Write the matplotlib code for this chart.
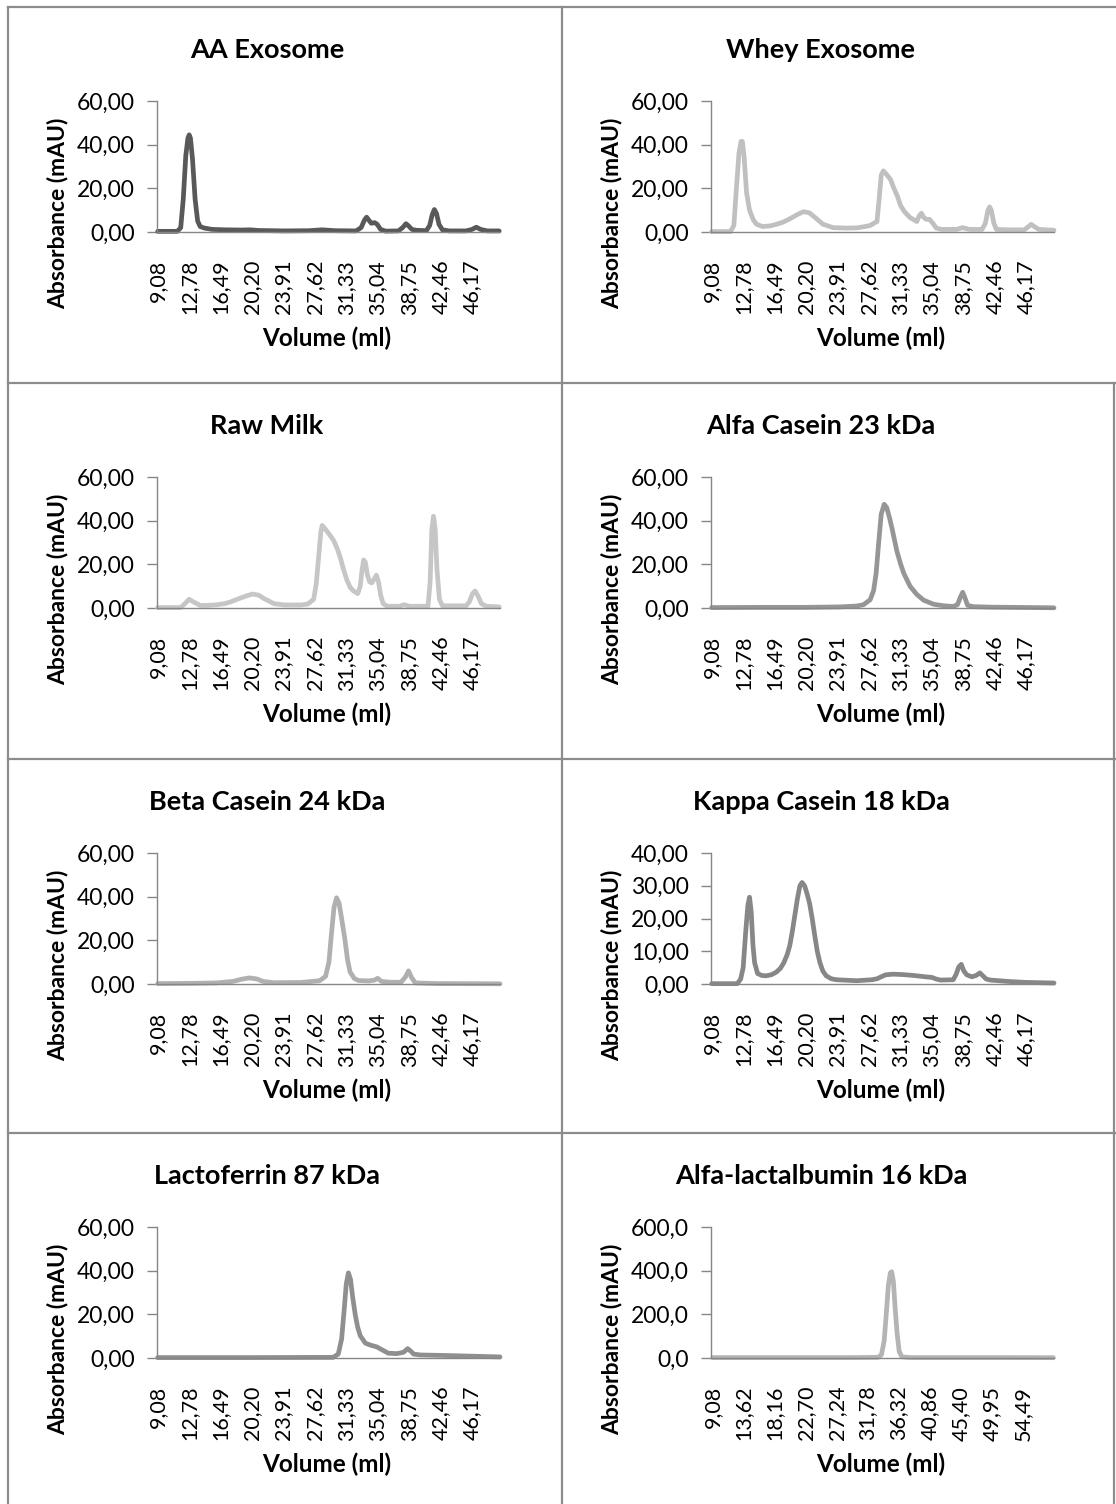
#!/usr/bin/env python3
"""
Eight SEC chromatograms (absorbance vs elution volume) laid out like an Excel sheet grid.
"""

import matplotlib
matplotlib.use('Agg')
import matplotlib.pyplot as plt
from matplotlib.lines import Line2D
from matplotlib.ticker import FuncFormatter

plt.rcParams['font.family'] = ['Lato', 'DejaVu Sans']

# --- data (volume in ml, absorbance in mAU) ---
AA_VOL = [9.08, 11.4, 11.8, 12.1, 12.4, 12.65, 12.8, 12.95, 13.2, 13.5, 13.8, 14.1, 14.6, 15.5, 17, 19, 20, 21,
          24, 27, 28.5, 30, 32.5, 33.1, 33.5, 33.75, 34.0, 34.3, 34.7, 35.0, 35.4, 36, 37.5, 38.0, 38.4, 38.7,
          39.1, 39.6, 40.8, 41.2, 41.5, 41.75, 42.0, 42.3, 42.7, 43.5, 45.5, 46.2, 46.7, 47.2, 48, 49.4]
AA_ABS = [0.3, 0.3, 2, 15, 35, 43, 44.5, 43, 33, 15, 5, 2.5, 1.8, 1.2, 1, 0.9, 1, 0.7,
          0.5, 0.6, 1, 0.6, 0.5, 2, 5.5, 6.8, 5.5, 4, 4.3, 3.5, 1.2, 0.4, 0.5, 2, 3.8, 2.8,
          1.2, 0.8, 0.6, 3, 8, 10.3, 8.5, 3.5, 1, 0.5, 0.5, 1.2, 2.2, 1.2, 0.5, 0.5]

WHEY_VOL = [9.08, 11.3, 11.7, 12.0, 12.3, 12.55, 12.7, 12.9, 13.2, 13.55, 14.0, 14.4, 15.1, 16, 16.7, 17.5,
            18.3, 19.1, 19.9, 20.6, 21.4, 22.2, 23.4, 25, 26.2, 27.2, 27.8, 28.6, 28.85, 29.1, 29.35, 29.7,
            30.2, 30.6, 31.0, 31.4, 31.8, 32.5, 33.3, 33.6, 33.85, 34.1, 34.4, 34.8, 35.2, 35.6, 36.2, 38.0,
            38.7, 39.5, 41.0, 41.4, 41.7, 41.9, 42.1, 42.4, 42.7, 44, 46, 46.5, 46.8, 47.2, 47.7, 49.5]
WHEY_ABS = [0.2, 0.2, 3, 20, 36, 41.5, 41.5, 35, 18, 10, 5.5, 3.5, 2.5, 2.8, 3.5, 4.5,
            6, 7.8, 9.3, 8.8, 6.3, 3.6, 2.0, 1.8, 1.9, 2.5, 3.0, 4.8, 15, 26, 28, 26.5,
            24, 20, 16.5, 12, 9.5, 6.6, 4.8, 7.5, 8.6, 6.8, 5.8, 5.8, 4, 1.8, 1.2, 1.2,
            2.0, 1.2, 1.2, 4, 10, 11.5, 10, 4, 1.2, 1, 1, 2.5, 3.5, 2.4, 1.2, 0.8]

RAW_VOL = [9.08, 11.8, 12.3, 12.8, 13.2, 14.1, 15, 16.1, 17.0, 17.7, 18.6, 19.6, 20.3, 21.0, 21.6, 22.3,
           22.8, 24, 26, 26.8, 27.5, 27.8, 28.1, 28.35, 28.5, 28.8, 29.2, 29.85, 30.3, 30.65, 31.0, 31.4,
           31.8, 32.2, 32.7, 33.0, 33.2, 33.4, 33.6, 33.85, 34.1, 34.35, 34.6, 34.9, 35.15, 35.4, 35.7,
           36.2, 37.6, 38.2, 38.8, 41.0, 41.25, 41.45, 41.65, 41.85, 42.05, 42.35, 42.7, 45.5, 45.9,
           46.25, 46.55, 46.9, 47.3, 47.9, 49.4]
RAW_ABS = [0.2, 0.2, 2, 4.0, 3, 1.2, 1.2, 1.5, 2, 2.8, 4.2, 5.6, 6.4, 5.9, 4.4, 3,
           2.0, 1.4, 1.4, 1.8, 4, 11, 24, 35, 37.8, 36.5, 34.5, 31, 27, 23, 18, 13,
           9.5, 7.8, 6.6, 10, 17, 22, 21, 15, 12, 11.5, 13, 15, 12, 6, 2,
           0.8, 0.8, 1.5, 0.8, 0.8, 12, 36, 42, 36, 18, 4, 1, 1, 3,
           6.5, 7.8, 5.5, 2, 0.8, 0.5]

ALFA_VOL = [9.08, 15, 20, 24.2, 26.2, 27.0, 27.8, 28.2, 28.5, 28.8, 29.1, 29.45, 29.75, 30.1, 30.4, 30.95,
            31.4, 31.75, 32.5, 33.3, 34.1, 35.3, 36.5, 37.6, 38.1, 38.45, 38.72, 39.0, 39.3, 40, 42, 49.5]
ALFA_ABS = [0.2, 0.3, 0.3, 0.5, 0.9, 1.5, 3.8, 8, 16, 30, 43, 47.5, 46, 41, 36, 26,
            20, 16, 10, 6.2, 3.6, 1.7, 1.0, 0.7, 1.5, 5, 7.2, 4.5, 1.2, 0.6, 0.4, 0.1]

BETA_VOL = [9.08, 13, 16, 18, 19.0, 19.9, 20.8, 21.5, 22.8, 26, 28.2, 28.9, 29.3, 29.6, 29.9, 30.2, 30.5,
            30.8, 31.2, 31.5, 31.8, 32.3, 32.8, 34.0, 34.7, 35.05, 35.5, 36.5, 37.8, 38.3, 38.7, 39.05,
            39.5, 42, 49.5]
BETA_ABS = [0.2, 0.3, 0.5, 1.2, 2.2, 2.8, 2.3, 1.2, 0.6, 0.7, 1.5, 3.5, 10, 23, 35, 39.5, 37,
            30, 20, 11, 5.5, 2.5, 1.6, 1.4, 1.8, 2.6, 1.2, 0.8, 0.8, 3, 6, 3,
            0.5, 0.2, 0.1]

KAPPA_VOL = [9.08, 12.1, 12.5, 12.8, 13.1, 13.35, 13.55, 13.75, 13.95, 14.15, 14.5, 15.0, 15.5, 16.1, 16.7,
             17.2, 17.6, 18.0, 18.3, 18.6, 18.9, 19.2, 19.5, 19.75, 20.05, 20.35, 20.65, 20.95, 21.25, 21.55,
             21.85, 22.2, 22.6, 23.2, 23.8, 26.2, 28.0, 28.6, 29.1, 29.6, 30.5, 31.5, 32.5, 33.3, 34.3, 35.1,
             35.6, 36.1, 37.6, 37.95, 38.25, 38.55, 38.85, 39.2, 39.8, 40.3, 40.75, 41.1, 41.5, 42.0, 44, 46,
             49.5]
KAPPA_ABS = [0.1, 0.1, 1.5, 5, 16, 24, 26.5, 22, 12, 6.5, 3.2, 2.6, 2.5, 2.8, 3.6,
             4.8, 6.5, 9, 11.7, 16, 21, 26, 30, 31, 30, 27.5, 24.5, 20, 14.8, 10,
             6.6, 4, 2.5, 1.6, 1.3, 1.0, 1.3, 1.6, 2.2, 2.8, 3.0, 2.9, 2.7, 2.5, 2.2, 2.0,
             1.5, 1.2, 1.3, 3, 5.2, 6, 4, 2.8, 2.2, 2.6, 3.4, 2.5, 1.5, 1.2, 0.8, 0.5,
             0.3]

LACTO_VOL = [9.08, 20, 29.8, 30.4, 30.8, 31.1, 31.35, 31.6, 31.85, 32.1, 32.4, 32.7, 33.0, 33.6, 34.2, 34.95,
             35.55, 36.3, 37.3, 38.1, 38.6, 39.0, 39.3, 40.1, 43.6, 49.5]
LACTO_ABS = [0.2, 0.2, 0.3, 1.8, 8.7, 22, 34, 39, 36, 28, 20, 14, 10.2, 6.8, 5.9, 5.1,
             3.8, 2.2, 2.0, 2.6, 4.3, 3, 1.8, 1.4, 1.1, 0.5]

LALB_VOL = [9.08, 20, 30, 33.3, 33.8, 34.2, 34.5, 34.8, 35.1, 35.3, 35.55, 35.8, 36.1, 36.4, 36.8, 38, 50, 59]
LALB_ABS = [2, 2, 2, 3, 15, 80, 200, 330, 390, 395, 350, 230, 110, 30, 5, 2, 2, 1.5]

TITLES = ["AA Exosome", "Whey Exosome", "Raw Milk", "Alfa Casein 23 kDa",
          "Beta Casein 24 kDa", "Kappa Casein 18 kDa", "Lactoferrin 87 kDa", "Alfa-lactalbumin 16 kDa"]
COLORS = ["#595959", "#c0c0c0", "#c6c6c6", "#969696", "#b0b0b0", "#878787", "#8f8f8f", "#b4b4b4"]

XTICKS_A = [9.08, 12.78, 16.49, 20.20, 23.91, 27.62, 31.33, 35.04, 38.75, 42.46, 46.17]
XTICKS_B = [9.08, 13.62, 18.16, 22.70, 27.24, 31.78, 36.32, 40.86, 45.40, 49.95, 54.49]
YTICKS_A = [0, 20, 40, 60]
YTICKS_K = [0, 10, 20, 30, 40]
YTICKS_L = [0, 200, 400, 600]

W, H = 1116, 1504
COL_X = [8, 562]
ROW_Y = [7, 383, 759, 1133]
AXIS_GRAY = "#868686"


def px_rect(left, top, width, height):
    """Convert a pixel box (origin top-left) to figure fractions."""
    return [left / W, 1 - (top + height) / H, width / W, height / H]


def comma(decimals):
    return FuncFormatter(lambda v, pos: f"{v:.{decimals}f}".replace(".", ","))


def draw_panel(fig, x0, y0, title, vol, absb, color, xticks, xlim, yticks, ydec):
    ax = fig.add_axes(px_rect(x0 + 149, y0 + 94, 343, 131))
    ax.plot(vol, absb, color=color, lw=3.4, solid_joinstyle='round', solid_capstyle='round', clip_on=False)
    ax.set_xlim(*xlim)
    ax.set_ylim(yticks[0], yticks[-1])
    ax.set_yticks(yticks)
    ax.set_xticks(xticks)
    ax.yaxis.set_major_formatter(comma(ydec))
    ax.xaxis.set_major_formatter(comma(2))
    for side in ("top", "right"):
        ax.spines[side].set_visible(False)
    for side in ("left", "bottom"):
        ax.spines[side].set_color(AXIS_GRAY)
        ax.spines[side].set_linewidth(1.0)
    ax.tick_params(axis='y', length=7, width=1.0, color=AXIS_GRAY, pad=9, labelsize=16.5)
    ax.tick_params(axis='x', length=0, pad=20, labelsize=15.5, labelrotation=90)

    fig.text((x0 + 259) / W, 1 - (y0 + 43) / H, title, ha='center', va='center',
             fontsize=19.5, fontweight='bold')
    fig.text((x0 + 319) / W, 1 - (y0 + 331) / H, "Volume (ml)", ha='center', va='center',
             fontsize=17.5, fontweight='bold')
    fig.text((x0 + 50) / W, 1 - (y0 + 206) / H, "Absorbance (mAU)", ha='center', va='center',
             rotation=90, fontsize=16.5, fontweight='bold')


def draw_grid(fig):
    """Sheet-like borders between the panels."""
    kw = dict(color="#8c8c8c", lw=1.6, transform=fig.transFigure)
    for y in ROW_Y:
        fig.add_artist(Line2D([COL_X[0] / W, 1], [1 - y / H, 1 - y / H], **kw))
    for x in COL_X:
        fig.add_artist(Line2D([x / W, x / W], [1 - ROW_Y[0] / H, 0], **kw))
    # right edge of the lower three rows
    fig.add_artist(Line2D([1114 / W, 1114 / W], [1 - ROW_Y[1] / H, 0], **kw))


def main():
    fig = plt.figure(figsize=(W / 100, H / 100), dpi=100)
    draw_grid(fig)

    traces = [(AA_VOL, AA_ABS), (WHEY_VOL, WHEY_ABS), (RAW_VOL, RAW_ABS), (ALFA_VOL, ALFA_ABS),
              (BETA_VOL, BETA_ABS), (KAPPA_VOL, KAPPA_ABS), (LACTO_VOL, LACTO_ABS), (LALB_VOL, LALB_ABS)]

    for i, (vol, absb) in enumerate(traces):
        x0 = COL_X[i % 2]
        y0 = ROW_Y[i // 2]
        if i == 7:
            draw_panel(fig, x0, y0, TITLES[i], vol, absb, COLORS[i], XTICKS_B, (8.8, 59.1), YTICKS_L, 1)
        elif i == 5:
            draw_panel(fig, x0, y0, TITLES[i], vol, absb, COLORS[i], XTICKS_A, (9.0, 49.5), YTICKS_K, 2)
        else:
            draw_panel(fig, x0, y0, TITLES[i], vol, absb, COLORS[i], XTICKS_A, (9.0, 49.5), YTICKS_A, 2)

    fig.savefig("out.png", dpi=100)
    plt.close(fig)


if __name__ == "__main__":
    main()
